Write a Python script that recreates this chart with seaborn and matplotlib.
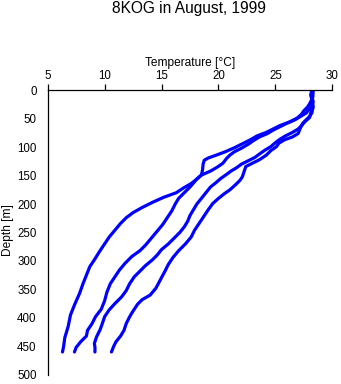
import matplotlib
matplotlib.use("Agg")
import matplotlib.pyplot as plt
import seaborn as sns
import pandas as pd

# ---- data ----
depth_a = [0, 8, 16, 24, 30, 36, 42, 49, 56, 62, 68, 74, 80, 87, 94, 101, 108, 114, 119, 123,
           130, 140, 149, 156, 164, 172, 180, 188, 197, 206, 215, 224, 234, 246, 258, 270, 285,
           298, 310, 325, 340, 357, 375, 395, 415, 435, 450, 460]
temp_a = [28.2, 28.1, 28.2, 28.0, 27.8, 27.5, 27.3, 26.9, 26.2, 25.4, 24.8, 24.2, 23.4, 22.8,
          22.1, 21.4, 20.6, 19.8, 19.1, 18.75, 18.65, 18.6, 18.5, 18.1, 17.6, 16.9, 16.3, 15.2,
          14.2, 13.3, 12.5, 11.9, 11.4, 10.9, 10.4, 10.0, 9.5, 9.1, 8.7, 8.4, 8.1, 7.8, 7.4, 7.0,
          6.8, 6.5, 6.4, 6.3]

depth_b = [0, 10, 20, 30, 40, 46, 52, 58, 64, 70, 76, 82, 88, 95, 102, 108, 114, 120, 128, 135,
           142, 149, 156, 163, 170, 180, 190, 200, 212, 224, 236, 248, 260, 272, 282, 292, 304,
           316, 328, 340, 355, 370, 385, 398, 410, 422, 432, 442, 452, 460]
temp_b = [28.3, 28.2, 28.3, 28.1, 27.7, 27.2, 26.7, 26.0, 25.4, 24.8, 24.3, 23.6, 23.1, 22.6,
          22.0, 21.4, 21.0, 20.7, 20.4, 19.9, 19.3, 18.5, 18.1, 17.8, 17.5, 17.0, 16.5, 16.2,
          15.9, 15.5, 15.1, 14.6, 14.1, 13.6, 13.1, 12.4, 11.8, 11.3, 10.9, 10.5, 10.2, 10.0,
          9.7, 9.2, 8.9, 8.5, 8.4, 7.9, 7.5, 7.35]

depth_c = [0, 10, 20, 30, 40, 48, 55, 62, 68, 74, 80, 86, 92, 99, 105, 112, 118, 124, 130, 136,
           142, 148, 155, 162, 170, 180, 190, 200, 210, 220, 230, 240, 250, 260, 270, 280, 290,
           298, 308, 318, 328, 340, 352, 363, 375, 386, 398, 410, 421, 433, 445, 452, 460]
temp_c = [28.3, 28.2, 28.3, 28.3, 28.1, 28.0, 27.6, 27.3, 27.0, 26.5, 25.9, 25.4, 25.0, 24.6,
          24.1, 23.6, 23.2, 22.6, 22.0, 21.6, 21.1, 20.7, 20.2, 19.8, 19.3, 18.9, 18.5, 18.1,
          17.8, 17.5, 17.3, 17.0, 16.6, 16.1, 15.6, 15.0, 14.6, 14.2, 13.6, 13.1, 12.6, 12.2,
          11.9, 11.5, 10.9, 10.4, 10.0, 9.8, 9.6, 9.3, 9.1, 9.15, 9.15]

depth_d = [0, 10, 20, 30, 40, 46, 52, 58, 66, 76, 82, 87, 93, 99, 106, 114, 122, 128, 134, 140,
           146, 152, 158, 166, 175, 182, 190, 199, 210, 222, 234, 246, 258, 270, 282, 294, 306,
           318, 333, 348, 360, 368, 376, 388, 398, 410, 422, 432, 442, 450, 460]
temp_d = [28.3, 28.3, 28.2, 28.3, 28.2, 28.0, 27.7, 27.4, 27.2, 27.0, 26.5, 25.8, 25.3, 25.1,
          24.6, 24.2, 23.6, 23.0, 22.4, 22.3, 22.2, 22.1, 21.9, 21.5, 21.0, 20.5, 20.0, 19.5,
          19.1, 18.7, 18.3, 17.9, 17.6, 17.1, 16.5, 16.0, 15.6, 15.3, 14.9, 14.5, 14.0, 13.3,
          12.9, 12.5, 12.2, 11.9, 11.7, 11.4, 11.0, 10.8, 10.6]

profiles = ["A", "B", "C", "D"]
x_ticks = [5, 10, 15, 20, 25, 30]
y_ticks = [0, 50, 100, 150, 200, 250, 300, 350, 400, 450, 500]
title = "8KOG in August, 1999"
x_label = "Temperature [°C]"
y_label = "Depth [m]"

rows = []
for name, dd, tt in zip(profiles, [depth_a, depth_b, depth_c, depth_d],
                        [temp_a, temp_b, temp_c, temp_d]):
    for i, (d, t) in enumerate(zip(dd, tt)):
        rows.append({"profile": name, "order": i, "depth": d, "temp": t})
df = pd.DataFrame(rows)

sns.set_style("white")
plt.rcParams["font.family"] = ["Liberation Sans", "DejaVu Sans"]

fig = plt.figure(figsize=(3.41, 3.84), dpi=100)
ax = fig.add_axes([0.1399, 0.0242, 0.8346, 0.7406])

sns.lineplot(data=df, x="temp", y="depth", units="profile", estimator=None, sort=False,
             color="#0000ff", linewidth=2.3, ax=ax, legend=False)

ax.set_xlim(5, 30)
ax.set_ylim(500, 0)
ax.set_xticks(x_ticks)
ax.set_yticks(y_ticks)
ax.xaxis.tick_top()
ax.xaxis.set_label_position("top")
for s in ["right", "bottom"]:
    ax.spines[s].set_visible(False)
for s in ["top", "left"]:
    ax.spines[s].set_color("black")
    ax.spines[s].set_linewidth(0.9)
ax.tick_params(axis="both", direction="out", length=4, width=0.9, color="black",
               labelsize=8.3, labelcolor="black")
ax.tick_params(axis="x", pad=2)
ax.tick_params(axis="y", pad=4)
ax.set_xlabel(x_label, fontsize=8.6, labelpad=3, color="black")
ax.set_ylabel(y_label, fontsize=8.6, color="black")
ax.yaxis.set_label_coords(-0.118, 0.51)
ax.grid(False)

fig.text(189 / 341, 1 - 9 / 384, title, ha="center", va="center", fontsize=11.2, color="black")

fig.savefig("out.png", dpi=100)
